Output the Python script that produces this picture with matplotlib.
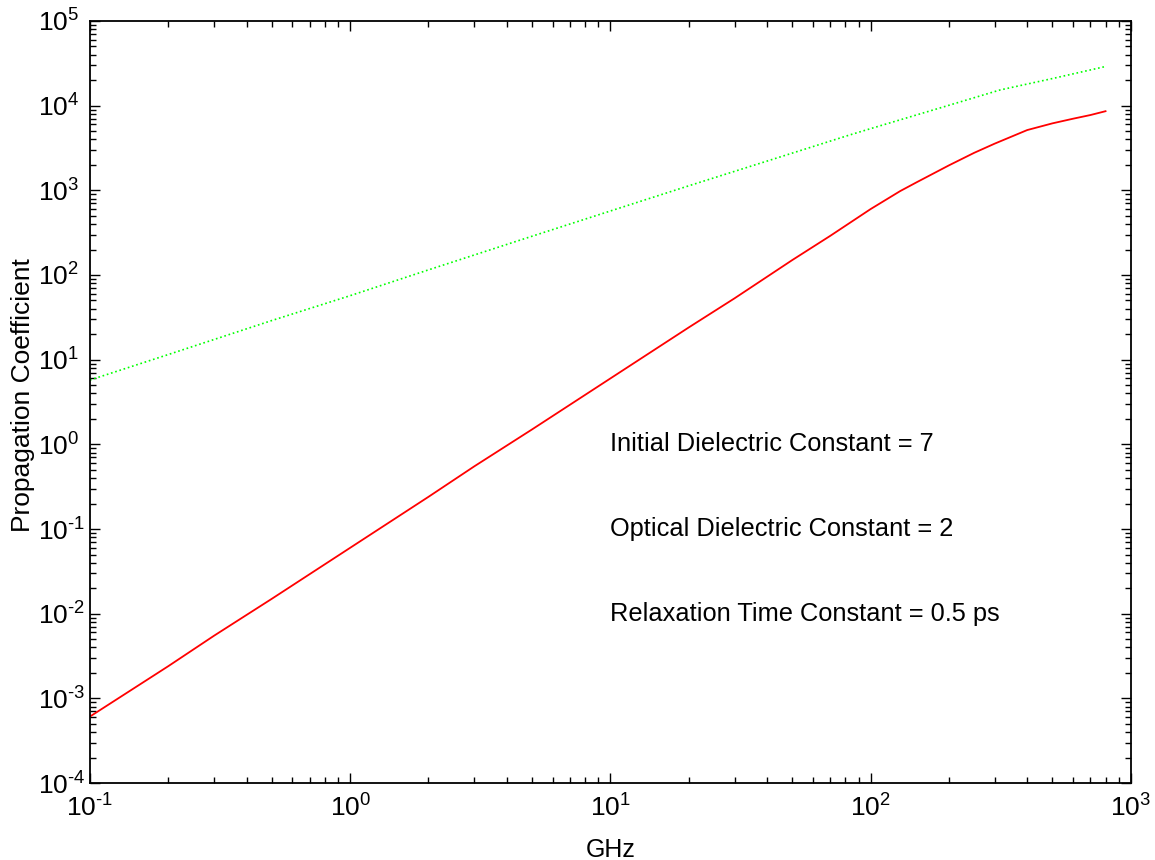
import matplotlib
matplotlib.use("Agg")
import matplotlib.pyplot as plt
import numpy as np
from matplotlib.ticker import LogLocator, NullFormatter, FuncFormatter

# values
freq_red = [0.1, 0.2, 0.3, 0.5, 1, 2, 3, 5, 10, 20, 30, 50, 70, 100,
            130, 150, 200, 250, 300, 400, 500, 600, 700, 800]
alpha = [6.1e-4, 2.4e-3, 5.5e-3, 1.5e-2, 6.0e-2, 0.24, 0.55, 1.5, 6.0, 24,
         53, 150, 290, 600, 980, 1240, 1970, 2770, 3560, 5150, 6180, 7010,
         7750, 8600]

freq_green = [0.1, 0.2, 0.5, 1, 2, 5, 10, 20, 50, 83, 100, 200, 314, 500, 800]
beta = [5.75, 11.5, 29, 57, 115, 287, 570, 1130, 2750, 4500, 5350,
        10100, 15300, 20900, 29000]

notes = ["Initial Dielectric Constant = 7",
         "Optical Dielectric Constant = 2",
         "Relaxation Time Constant = 0.5 ps"]
note_y = [1, 0.1, 0.01]

plt.rcParams.update({'font.family': 'Liberation Sans', 'font.size': 19})
plt.rcParams.update({'mathtext.fontset': 'custom',
                     'mathtext.rm': 'Liberation Sans',
                     'mathtext.it': 'Liberation Sans',
                     'axes.unicode_minus': False})


def pow10(v, pos):
    e = int(round(np.log10(v)))
    s = str(abs(e))
    if e < 0:
        s = '\u2010' + s  # short hyphen like the original
    return r'$\mathdefault{10^{%s}}$' % s


fig = plt.figure(figsize=(11.55, 8.6), dpi=100)
ax = fig.add_axes([0.0779, 0.0895, 0.9011, 0.8861])

ax.loglog(freq_green, beta, color='#00ff00', linestyle=':', linewidth=1.2)
ax.loglog(freq_red, alpha, color='#ff0000', linewidth=1.3)

for txt, yy in zip(notes, note_y):
    ax.text(10, yy, txt, ha='left', va='center', fontsize=18.3)

ax.set_xlim(0.1, 1000)
ax.set_ylim(1e-4, 1e5)
ax.xaxis.set_major_locator(LogLocator(base=10, numticks=20))
ax.yaxis.set_major_locator(LogLocator(base=10, numticks=20))
ax.xaxis.set_minor_locator(LogLocator(base=10, subs=np.arange(2, 10), numticks=100))
ax.yaxis.set_minor_locator(LogLocator(base=10, subs=np.arange(2, 10), numticks=100))
ax.xaxis.set_major_formatter(FuncFormatter(pow10))
ax.yaxis.set_major_formatter(FuncFormatter(pow10))
ax.xaxis.set_minor_formatter(NullFormatter())
ax.yaxis.set_minor_formatter(NullFormatter())

ax.tick_params(which='both', direction='in', top=True, right=True, width=1.0)
ax.tick_params(which='major', length=7, pad=8)
ax.tick_params(axis='y', which='major', pad=37.5)
ax.tick_params(which='minor', length=4)
for sp in ax.spines.values():
    sp.set_linewidth(1.3)

# y tick labels start at the same x, like the original
fig.canvas.draw()
plt.setp(ax.get_yticklabels(), ha='left')

ax.set_xlabel("GHz", fontsize=18)
ax.set_ylabel("Propagation Coefficient", fontsize=19)
ax.xaxis.set_label_coords(0.5, -0.072)
ax.yaxis.set_label_coords(-0.053, 0.509)

fig.savefig("out.png", dpi=100)
